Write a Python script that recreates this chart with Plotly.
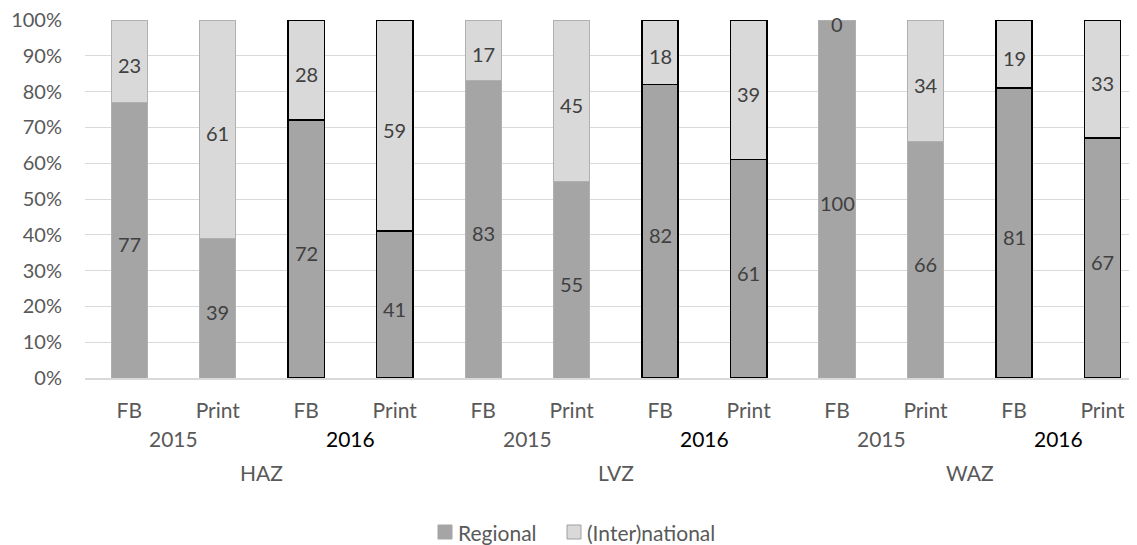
import plotly.graph_objects as go

papers = ["HAZ", "LVZ", "WAZ"]
years = ["2015", "2016"]
media = ["FB", "Print"]
regional = [77, 39, 72, 41, 83, 55, 82, 61, 100, 66, 81, 67]
international = [23, 61, 28, 59, 17, 45, 18, 39, 0, 34, 19, 33]
bar_years = ["2015", "2015", "2016", "2016"] * 3
tick_text = media * 6
year_labels = years * 3
series_names = ["Regional", "(Inter)national"]
series_colors = ["#A5A5A5", "#D9D9D9"]

FONT = "Lato"
FS = 21
xs = list(range(len(regional)))

line_colors = ["#B0B0B0" if y == "2015" else "#000000" for y in bar_years]
line_widths = [1 if y == "2015" else 1.6 for y in bar_years]

fig = go.Figure()
for name, vals, col in zip(series_names, [regional, international], series_colors):
    fig.add_trace(go.Bar(
        x=xs, y=vals, name=name, width=0.41, showlegend=False,
        marker=dict(color=col, line=dict(color=line_colors, width=line_widths)),
    ))

annotations = []

# data labels at segment centres
lab_x = xs + xs
lab_y = [r / 2 for r in regional] + [r + i / 2 for r, i in zip(regional, international)]
lab_t = [str(v) for v in regional] + [str(v) for v in international]
for x, y, t in zip(lab_x, lab_y, lab_t):
    annotations.append(dict(
        x=x, y=y, xref="x", yref="y", text=t, showarrow=False,
        xanchor="center", yanchor="middle", yshift=-4,
        font=dict(family=FONT, size=20, color="#404040"),
    ))

for k, yl in enumerate(year_labels):
    annotations.append(dict(
        x=2 * k + 0.5, y=-0.168, xref="x", yref="paper", text=yl, showarrow=False,
        font=dict(family=FONT, size=FS, color="#595959" if yl == "2015" else "#000000"),
        xanchor="center", yanchor="middle",
    ))
for k, p in enumerate(papers):
    annotations.append(dict(
        x=4 * k + 1.5, y=-0.265, xref="x", yref="paper", text=p, showarrow=False,
        font=dict(family=FONT, size=FS, color="#595959"),
        xanchor="center", yanchor="middle",
    ))

# custom legend (plot area in page px: x 85..1137, y 20..378)
def px_x(p):
    return (p - 85) / 1052.0

def px_y(p):
    return (378 - p) / 358.0

shapes = []
legend_sq_left = [438, 567]
for name, col, left in zip(series_names, series_colors, legend_sq_left):
    shapes.append(dict(
        type="rect", xref="paper", yref="paper",
        x0=px_x(left), x1=px_x(left + 14), y0=px_y(539), y1=px_y(525),
        fillcolor=col, line=dict(color="#A0A0A0" if col == "#D9D9D9" else col, width=1),
    ))
    annotations.append(dict(
        x=px_x(left + 18), y=px_y(532), xref="paper", yref="paper", text=name,
        showarrow=False, xanchor="left", yanchor="middle",
        font=dict(family=FONT, size=FS, color="#595959"),
    ))

# the page body has an 8 px margin, so the figure is 8 px smaller
fig.update_layout(
    width=1129, height=537,
    margin=dict(l=77, r=0, t=12, b=167),
    barmode="stack",
    plot_bgcolor="white", paper_bgcolor="white",
    font=dict(family=FONT, size=FS, color="#595959"),
    showlegend=False,
    xaxis=dict(
        range=[-0.5, 11.39], tickmode="array", tickvals=xs, ticktext=tick_text,
        showgrid=False, showline=True, linecolor="#D9D9D9", linewidth=1.5,
        ticks="", ticklabelstandoff=13, zeroline=False, automargin=False,
        ticklabeloverflow="allow",
        tickfont=dict(family=FONT, size=FS, color="#595959"),
    ),
    yaxis=dict(
        range=[0, 100], tickmode="array", tickvals=list(range(0, 101, 10)),
        ticktext=[f"{v}%" for v in range(0, 101, 10)],
        showgrid=True, gridcolor="#D9D9D9", gridwidth=1.3, zeroline=False,
        ticks="", ticklabelstandoff=22, automargin=False,
        ticklabeloverflow="allow",
        tickfont=dict(family=FONT, size=20, color="#595959"),
    ),
    annotations=annotations,
    shapes=shapes,
    bargap=0.5,
)

fig.write_html("out.html")
